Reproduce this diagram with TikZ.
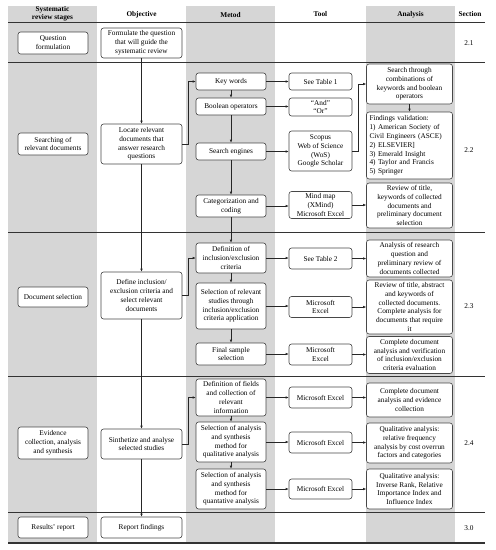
\documentclass[tikz,border=0pt]{standalone}
\usepackage{fontspec}
\setmainfont{Liberation Serif}
\usetikzlibrary{arrows.meta}
\begin{document}
\begin{tikzpicture}[x=1pt,y=-1pt,
  txt/.style={font=\fontsize{7.3}{8.8}\selectfont},
  hdr/.style={font=\fontsize{7.3}{8.2}\selectfont\bfseries, align=center, inner sep=0pt},
  box/.style={draw=black!72, line width=0.6pt, rounded corners=2.6pt, fill=white, align=center,
    inner xsep=1.5pt, inner ysep=0pt, txt},
  sbox/.style={box, minimum width=70pt},
  obox/.style={box, minimum width=81pt},
  mbox/.style={box, minimum width=70pt},
  tbox/.style={box, minimum width=63pt},
  abox/.style={box, minimum width=86pt},
  arr/.style={draw=black!85, line width=0.6pt, -{Latex[length=3pt,width=2.6pt]}},
  rowline/.style={draw=black!80, line width=0.8pt},
  thick line/.style={draw=black!80, line width=1.3pt},
  grayband/.style={fill=black!16, draw=none}
]
\useasboundingbox (0,0) rectangle (496,550);
% gray columns
\fill[grayband] (8,6) rectangle (97,543);
\fill[grayband] (186,6) rectangle (275,543);
\fill[grayband] (366,6) rectangle (455,543);
% header
\node[hdr] (h1) at (52.5,13.5) {Systematic\\review stages};
\node[hdr] (h2) at (141.5,14.5) {Objective};
\node[hdr] (h3) at (230.5,14.5) {Metod};
\node[hdr] (h4) at (320.5,13.5) {Tool};
\node[hdr] (h5) at (410.5,14.5) {Analysis};
\node[hdr] (h6) at (470,14) {Section};
% row lines
\draw[thick line] (8,22.5) -- (485,22.5);
\draw[rowline] (8,62.5) -- (485,62.5);
\draw[rowline] (8,232) -- (485,232);
\draw[rowline] (8,376) -- (485,376);
\draw[rowline] (8,512.5) -- (485,512.5);
\draw[thick line] (8,543) -- (485,543);

% stage column
\node[sbox, minimum height=22pt] (s1) at (53,43) {Question\\formulation};
\node[sbox, minimum height=22pt] (s2) at (53,144) {Searching of\\relevant documents};
\node[sbox, minimum height=20pt] (s3) at (53,297) {Document selection};
\node[sbox, minimum height=32pt] (s4) at (53,443) {Evidence\\collection, analysis\\and synthesis};
\node[sbox, minimum height=21pt] (s5) at (53,527.5) {Results' report};

% objective column
\node[obox, minimum height=30pt] (o1) at (141.5,43) {Formulate the question\\that will guide the\\systematic review};
\node[obox, minimum height=40pt] (o2) at (141.5,144) {Locate relevant\\documents that\\answer research\\questions};
\node[obox, minimum height=47pt] (o3) at (141.5,295.5) {Define inclusion/\\exclusion criteria and\\select relevant\\documents};
\node[obox, minimum height=30pt] (o4) at (141.5,444) {Sinthetize and analyse\\selected studies};
\node[obox, minimum height=21pt] (o5) at (141.5,527.5) {Report findings};

% metod column
\node[mbox, minimum height=17pt] (m1) at (231,81.5) {Key words};
\node[mbox, minimum height=17pt] (m2) at (231,106.5) {Boolean operators};
\node[mbox, minimum height=17pt] (m3) at (231,151.5) {Search engines};
\node[mbox, minimum height=22pt] (m4) at (231,206) {Categorization and\\coding};
\node[mbox, minimum height=30pt] (m5) at (231,258) {Definition of\\inclusion/exclusion\\criteria};
\node[mbox, minimum height=46pt] (m6) at (231,306) {Selection of relevant\\studies through\\inclusion/exclusion\\criteria application};
\node[mbox, minimum height=22pt] (m7) at (231,354) {Final sample\\selection};
\node[mbox, minimum height=37pt] (m8) at (231,397.5) {Definition of fields\\and collection of\\relevant\\information};
\node[mbox, minimum height=40pt] (m9) at (231,442) {Selection of analysis\\and synthesis\\method for\\qualitative analysis};
\node[mbox, minimum height=40pt] (m10) at (231,489) {Selection of analysis\\and synthesis\\method for\\quantative analysis};

% tool column
\node[tbox, minimum height=17pt] (t1) at (320.5,81.5) {See Table 1};
\node[tbox, minimum height=18pt] (t2) at (320.5,107) {“And”\\“Or”};
\node[tbox, minimum height=40pt] (t3) at (320.5,151) {Scopus\\Web of Science\\(WoS)\\Google Scholar};
\node[tbox, minimum height=27pt] (t4) at (320.5,205) {Mind map\\(XMind)\\Microsoft Excel};
\node[tbox, minimum height=21pt] (t5) at (320.5,258.5) {See Table 2};
\node[tbox, minimum height=21pt] (t6) at (320.5,307) {Microsoft\\Excel};
\node[tbox, minimum height=21pt] (t7) at (320.5,354.5) {Microsoft\\Excel};
\node[tbox, minimum height=21pt] (t8) at (320.5,397.5) {Microsoft Excel};
\node[tbox, minimum height=21pt] (t9) at (320.5,442.5) {Microsoft Excel};
\node[tbox, minimum height=20pt] (t10) at (320.5,489) {Microsoft Excel};

% analysis column
\node[abox, minimum height=40pt] (a1) at (409.5,84) {Search through\\combinations of\\keywords and boolean\\operators};
\node[box, align=left, text width=80pt, inner xsep=3pt, minimum height=67pt] (a2) at (409.5,145.5) {Findings validation:\\1) American Society of\\Civil Engineers (ASCE)\\2) ELSEVIER]\\3) Emerald Insight\\4) Taylor and Francis\\5) Springer};
\node[abox, minimum height=45pt] (a3) at (409.5,205.5) {Review of title,\\keywords of collected\\documents and\\preliminary document\\selection};
\node[abox, minimum height=37pt] (a4) at (409.5,258.5) {Analysis of research\\question and\\preliminary review of\\documents collected};
\node[abox, minimum height=54pt] (a5) at (409.5,307) {Review of title, abstract\\and keywords of\\collected documents.\\Complete analysis for\\documents that require\\it};
\node[abox, minimum height=37pt] (a6) at (409.5,355) {Complete document\\analysis and verification\\of inclusion/exclusion\\criteria evaluation};
\node[abox, minimum height=34pt] (a7) at (409.5,400) {Complete document\\analysis and evidence\\collection};
\node[abox, minimum height=40pt] (a8) at (409.5,443) {Qualitative analysis:\\relative frequency\\analysis by cost overrun\\factors and categories};
\node[abox, minimum height=40pt] (a9) at (409.5,489) {Qualitative analysis:\\Inverse Rank, Relative\\Importance Index and\\Influence Index};

% section numbers
\node[txt] (n1) at (469,43) {2.1};
\node[txt] (n2) at (469,150) {2.2};
\node[txt] (n3) at (469,306) {2.3};
\node[txt] (n4) at (469,443) {2.4};
\node[txt] (n5) at (469,528) {3.0};

% objective chain
\draw[arr] (o1.south) -- (o2.north);
\draw[arr] (o2.south) -- (o3.north);
\draw[arr] (o3.south) -- (o4.north);
\draw[arr] (o4.south) -- (o5.north);

% objective to metod elbows
\draw[arr] (o2.east) -- ++(6,0) |- (m1.west);
\draw[arr] (o3.east) -- ++(6,0) |- (m5.west);
\draw[arr] (o4.east) -- ++(6,0) |- (m8.west);

% metod chains
\draw[arr] (m1.south) -- (m2.north);
\draw[arr] (m2.south) -- (m3.north);
\draw[arr] (m3.south) -- (m4.north);
\draw[arr] (m4.south) -- (m5.north);
\draw[arr] (m5.south) -- (m6.north);
\draw[arr] (m6.south) -- (m7.north);
\draw[arr] (m8.south) -- (m9.north);
\draw[arr] (m9.south) -- (m10.north);

% metod to tool
\draw[arr] (m1.east) -- (t1.west);
\draw[arr] (m2.east) -- (m2.east -| t2.west);
\draw[arr] (m3.east) -- (m3.east -| t3.west);
\draw[arr] (m4.east) -- (m4.east -| t4.west);
\draw[arr] (m5.east) -- (m5.east -| t5.west);
\draw[arr] (m6.east) -- (m6.east -| t6.west);
\draw[arr] (m7.east) -- (m7.east -| t7.west);
\draw[arr] (m8.east) -- (m8.east -| t8.west);
\draw[arr] (m9.east) -- (m9.east -| t9.west);
\draw[arr] (m10.east) -- (m10.east -| t10.west);

% tool to analysis
\draw[arr] (t3.east) -- ++(6,0) |- (a1.west);
\draw[arr] (a1.south) -- (a2.north);
\draw[arr] (t4.east) -- (t4.east -| a3.west);
\draw[arr] (t5.east) -- (t5.east -| a4.west);
\draw[arr] (t6.east) -- (t6.east -| a5.west);
\draw[arr] (t7.east) -- (t7.east -| a6.west);
\draw[arr] (t8.east) -- (t8.east -| a7.west);
\draw[arr] (t9.east) -- (t9.east -| a8.west);
\draw[arr] (t10.east) -- (t10.east -| a9.west);
\end{tikzpicture}
\end{document}
